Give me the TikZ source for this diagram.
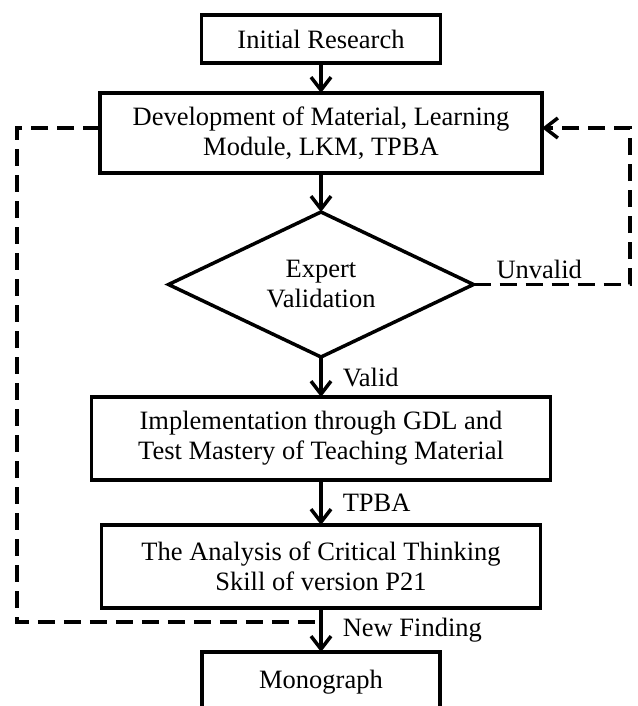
\documentclass[tikz,border=0pt]{standalone}
\usepackage{fontspec}
\setmainfont{Liberation Serif}
\usetikzlibrary{positioning}
\usetikzlibrary{shapes.geometric}
\usetikzlibrary{arrows.meta}

\begin{document}
\begin{tikzpicture}[font=\fontsize{26.5pt}{30pt}\selectfont,
    box/.style={draw,line width=3.5pt,align=center,inner sep=3pt,outer sep=0pt},
    tip/.style={-{Straight Barb[length=13pt,width=20pt]}},
    flow/.style={line width=3.5pt,tip},
    back/.style={line width=3.5pt,dash pattern=on 17pt off 9pt},
    lbl/.style={right=20pt,inner sep=0pt}]
    \useasboundingbox (0,0) rectangle (637pt,-706pt);
    \node[box,minimum width=239pt,minimum height=48pt] (init) at (321pt,-39pt) {Initial Research};
    \node[box,minimum width=442pt,minimum height=80pt,below=30pt of init] (dev) {Development of Material, Learning\\Module, LKM, TPBA};
    \node[box,diamond,aspect=2.1,inner sep=0pt,minimum width=305pt,minimum height=145pt,below=39pt of dev] (valid) {Expert\\Validation};
    \node[box,minimum width=459pt,minimum height=83pt,below=40pt of valid] (impl) {Implementation through GDL and\\Test Mastery of Teaching Material};
    \node[box,minimum width=439pt,minimum height=83pt,below=45pt of impl] (ana) {The Analysis of Critical Thinking\\Skill of version P21};
    \node[box,minimum width=238pt,minimum height=60pt,below=44pt of ana] (mono) {Monograph};
    \coordinate (lft) at (17pt,0);
    \coordinate (rgt) at (630pt,0);
    \draw[flow] (init) -- (dev);
    \draw[flow] (dev) -- (valid);
    \draw[flow] (valid) -- node[lbl] {Valid} (impl);
    \draw[flow] (impl) -- node[lbl] {TPBA} (ana);
    \draw[flow] (ana) -- coordinate[pos=0.32] (join) node[lbl] {New Finding} (mono);
    % feedback loops
    \draw[back,tip] (valid.east) -- node[above,pos=0.42,inner sep=4pt] {Unvalid} (valid.east -| rgt) |- ([yshift=5pt]dev.east);
    \draw[back] ([yshift=5pt]dev.west) -| (lft |- join) -- (join);
\end{tikzpicture}
\end{document}
